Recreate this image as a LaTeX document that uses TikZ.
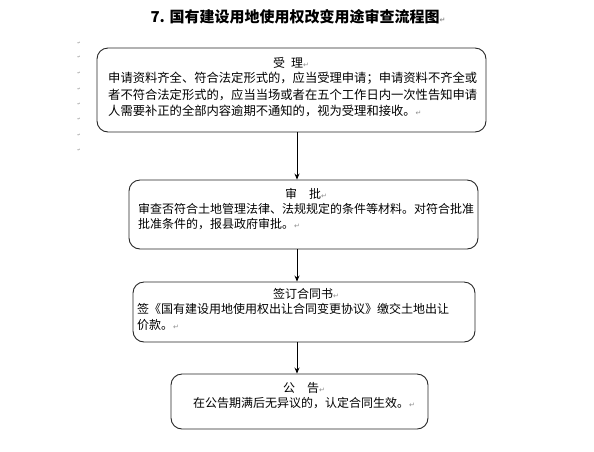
\documentclass[tikz,border=0pt]{standalone}
\usepackage{fontspec}
\newfontfamily\cjk{Noto Sans CJK SC}
\newfontfamily\symf{DejaVu Sans}
\usetikzlibrary{arrows.meta}
\newcommand{\pmark}{{\symf\color{black!45}\fontsize{7}{7}\selectfont ↵}}
\begin{document}
\begin{tikzpicture}[x=1pt,y=-1pt,
  box/.style={draw=black!85,line width=0.9pt,rounded corners=11pt,inner sep=0pt},
  txt/.style={inner sep=0pt,anchor=west,font=\cjk\fontsize{12}{16}\selectfont},
  txtb/.style={inner sep=0pt,anchor=west,font=\cjk\fontsize{12.3}{16}\selectfont},
  ttl/.style={inner sep=0pt,anchor=center,font=\cjk\bfseries\fontsize{15}{16}\selectfont},
  tiny/.style={inner sep=0pt,font=\symf\fontsize{4}{4}\selectfont,text=black!50},
  arr/.style={draw=black,line width=0.8pt,-{Stealth[length=6pt,width=5pt]}}]
\useasboundingbox (0,0) rectangle (594,451);
% title
\node[ttl] (title) at (298,17) {7. 国有建设用地使用权改变用途审查流程图\pmark};
% left marks
\foreach \yy [count=\i] in {43,57,73,89,104,119,135,150}
  \node[tiny] (m\i) at (79,\yy) {↵};
% boxes
\node[box,minimum width=389pt,minimum height=84pt] (b1) at (291.5,90) {};
\node[box,minimum width=349pt,minimum height=69pt] (b2) at (303.5,214.5) {};
\node[box,minimum width=342pt,minimum height=60pt] (b3) at (304,312) {};
\node[box,minimum width=257pt,minimum height=55pt] (b4) at (299.5,401.5) {};
% texts box 1
\node[txt] (h1) at (273,63) {受\hspace{6pt}理\pmark};
\node[txtb] (t11) at (108,78.5) {申请资料齐全、符合法定形式的，应当受理申请；申请资料不齐全或};
\node[txtb] (t12) at (108,94.5) {者不符合法定形式的，应当当场或者在五个工作日内一次性告知申请};
\node[txtb] (t13) at (108,110.5) {人需要补正的全部内容逾期不通知的，视为受理和接收。\pmark};
% box 2
\node[txt] (h2) at (285,194) {审\hspace{12pt}批\pmark};
\node[txt] (t21) at (138,209) {审查否符合土地管理法律、法规规定的条件等材料。对符合批准};
\node[txt] (t22) at (138,224.5) {批准条件的，报县政府审批。\pmark};
% box 3
\node[txt] (h3) at (273,294) {签订合同书\pmark};
\node[txt] (t31) at (137,309) {签《国有建设用地使用权出让合同变更协议》缴交土地出让};
\node[txt] (t32) at (137,324.5) {价款。\pmark};
% box 4
\node[txt] (h4) at (283,388) {公\hspace{12pt}告\pmark};
\node[txt] (t41) at (193,403) {在公告期满后无异议的，认定合同生效。\pmark};
% arrows
\coordinate (ax) at (297,0);
\draw[arr] (b1.south -| ax) -- (b2.north -| ax);
\draw[arr] (b2.south -| ax) -- (b3.north -| ax);
\draw[arr] (b3.south -| ax) -- (b4.north -| ax);
\end{tikzpicture}
\end{document}
